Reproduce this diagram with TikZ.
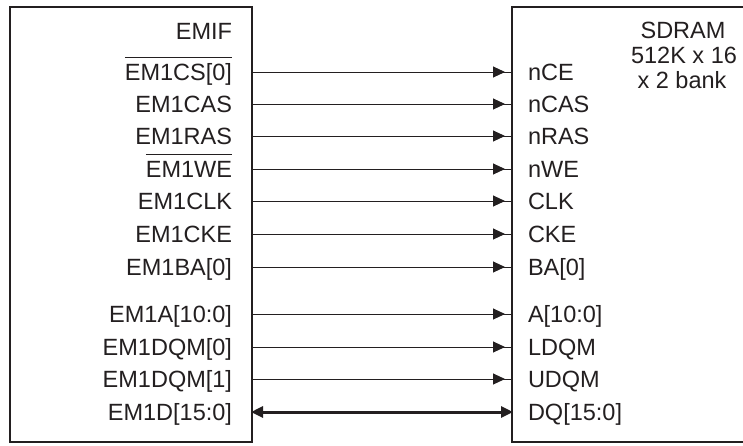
\documentclass[tikz,border=0pt]{standalone}
\usepackage{fontspec}
\setmainfont{Liberation Sans}
\usetikzlibrary{arrows.meta}
\definecolor{ink}{RGB}{35,31,32}
\newcommand{\obar}[1]{\setbox0=\hbox{#1}\rlap{\rule[22pt]{\wd0}{1.1pt}}\box0}
\begin{document}
\begin{tikzpicture}[x=1pt,y=-1pt,
  every node/.style={inner sep=0pt, outer sep=0pt, text=ink, font=\fontsize{23.5}{25}\selectfont},
  lbl/.style={anchor=base east},
  rlbl/.style={anchor=base west},
  box/.style={draw=ink, line width=2.6pt},
  sig/.style={draw=ink, line width=1pt, postaction={draw=ink, shorten >=7pt, -{Triangle[length=12pt,width=11pt]}}},
  bus/.style={draw=ink, line width=3pt, {Triangle[length=12pt,width=11pt]}-{Triangle[length=12pt,width=11pt]}}]
\useasboundingbox (0,0) rectangle (743,445);
% boxes
\node[box, minimum width=242pt, minimum height=435pt, anchor=north west] (emif) at (10,7) {};
\draw[box, line join=miter] (750,7) -- (512,7) -- (512,442) -- (750,442);
% titles
\node[lbl] (emift) at (232,39) {EMIF};
\node[anchor=base] (sd1) at (683,38) {SDRAM};
\node[anchor=base] (sd2) at (684,63) {512K x 16};
\node[anchor=base] (sd3) at (682,88) {x 2 bank};
% signals
\foreach \i/\y/\a/\b in {1/72/\obar{EM1CS[0]}/nCE, 2/104/EM1CAS/nCAS, 3/136/EM1RAS/nRAS, 4/169/\obar{EM1WE}/nWE,
  5/201/EM1CLK/CLK, 6/234/EM1CKE/CKE, 7/267/EM1BA[0]/BA[0], 8/314/EM1A[10:0]/A[10:0],
  9/347/EM1DQM[0]/LDQM, 10/379/EM1DQM[1]/UDQM}{
  \node[lbl] (l\i) at (232,\y+8.3) {\a};
  \node[rlbl] (r\i) at (528,\y+8.3) {\b};
  \coordinate (L\i) at (252,\y);
  \coordinate (R\i) at (512,\y);
  \path[sig] (L\i) -- (R\i);
}
\node[lbl] (l11) at (232,420.3) {EM1D[15:0]};
\node[rlbl] (r11) at (528,420.3) {DQ[15:0]};
\coordinate (L11) at (251,412);
\coordinate (R11) at (513,412);
\path[bus] (L11) -- (R11);
\end{tikzpicture}
\end{document}
